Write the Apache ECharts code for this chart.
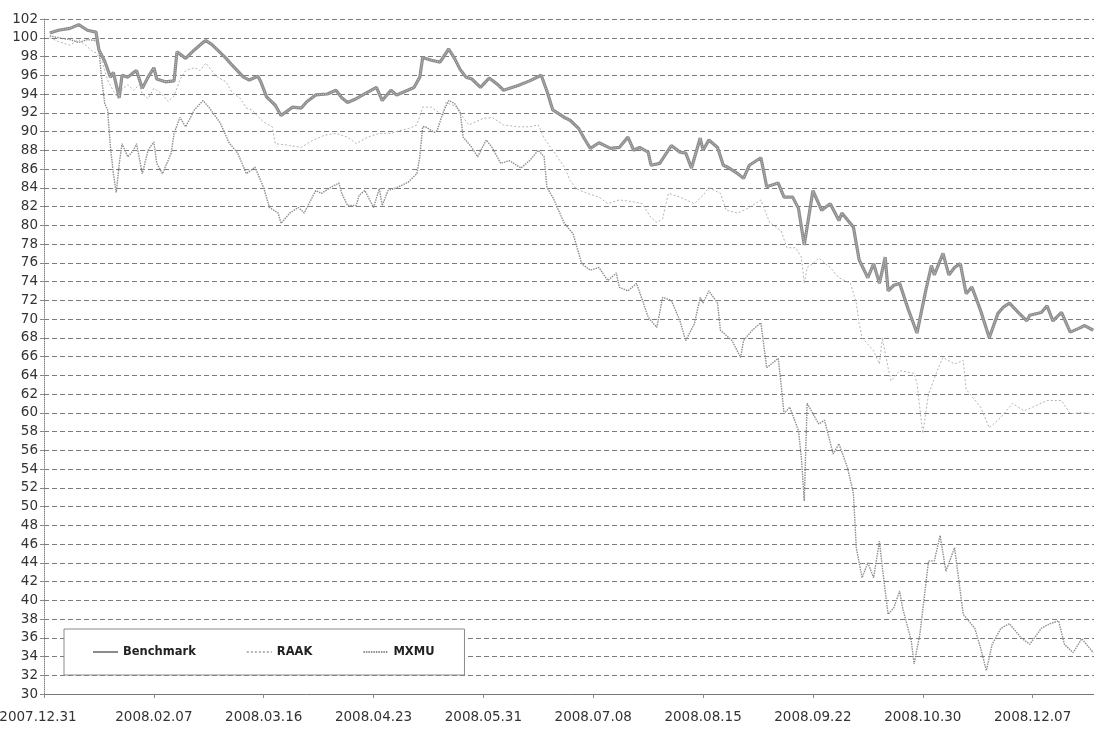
<!DOCTYPE html>
<html>
<head>
<meta charset="utf-8">
<title>Benchmark / RAAK / MXMU</title>
<script src="https://cdn.jsdelivr.net/npm/echarts@6.0.0/dist/echarts.min.js"></script>
<style>
  html, body { margin: 0; padding: 0; background: #fff; }
  #main { width: 1094px; height: 733px; }
</style>
</head>
<body>
<div id="main"></div>
<script>
// x = days since 2007.12.31, y = index (start = 100)
var xLabels = ['2007.12.31', '2008.02.07', '2008.03.16', '2008.04.23', '2008.05.31',
  '2008.07.08', '2008.08.15', '2008.09.22', '2008.10.30', '2008.12.07'];
var labelStep = 38; // days between axis labels

var benchmark = [[2,100.5],[5,100.8],[9,101],[12,101.4],[15,100.8],[18,100.6],[19,98.7],[21,97.5],[23,95.8],[24,96.3],[26,93.6],[27,96],[29,95.8],[31,96.3],[32,96.5],[34,94.6],[36,95.8],[38,96.8],[39,95.6],[42,95.3],[45,95.4],[46,98.5],[49,97.8],[52,98.7],[55,99.5],[56,99.7],[58,99.3],[60,98.7],[63,97.8],[65,97.1],[69,95.8],[71,95.5],[74,95.9],[75,95.3],[77,93.7],[80,92.8],[82,91.7],[86,92.6],[89,92.5],[91,93.2],[94,93.9],[98,94],[101,94.4],[103,93.6],[105,93.1],[108,93.5],[112,94.2],[115,94.7],[117,93.3],[120,94.4],[122,93.9],[125,94.3],[128,94.7],[130,95.8],[131,97.9],[134,97.6],[137,97.4],[140,98.8],[142,97.8],[144,96.6],[146,95.8],[148,95.6],[151,94.7],[154,95.7],[157,95],[159,94.4],[164,94.9],[168,95.4],[172,96],[174,94.3],[176,92.3],[180,91.5],[182,91.2],[185,90.3],[187,89.2],[189,88.2],[192,88.8],[196,88.2],[199,88.3],[202,89.4],[204,88],[206,88.3],[209,87.8],[210,86.4],[213,86.6],[217,88.5],[220,87.8],[222,87.7],[224,86.1],[227,89.3],[228,88],[230,89.1],[233,88.3],[235,86.4],[237,86.1],[240,85.5],[242,85],[244,86.4],[248,87.2],[249,85.7],[250,84.1],[254,84.5],[256,83],[259,83],[261,81.8],[263,77.9],[266,83.7],[269,81.6],[272,82.3],[275,80.5],[276,81.3],[280,79.8],[282,76.3],[285,74.4],[287,75.9],[289,73.8],[291,76.6],[292,73],[294,73.6],[296,73.8],[299,71],[302,68.5],[305,73],[307,75.7],[308,74.7],[311,77],[313,74.7],[315,75.5],[317,75.9],[319,72.7],[321,73.4],[324,70.9],[327,68],[330,70.6],[332,71.3],[334,71.7],[337,70.7],[340,69.8],[341,70.4],[345,70.7],[347,71.4],[349,69.8],[352,70.7],[355,68.6],[358,69],[360,69.3],[363,68.8]];

var raak = [[2,100],[5,99.6],[9,99.2],[12,99.8],[14,99.3],[17,98.5],[18,98.4],[20,97.5],[22,95.5],[24,94.3],[26,93.4],[27,94.5],[29,95],[31,94.4],[33,95],[34,94],[36,93.5],[38,94.6],[40,94.2],[43,93.2],[45,93.8],[47,95.5],[49,96.5],[52,96.8],[54,96.5],[56,97.3],[58,96.5],[60,95.8],[63,95.3],[65,94.2],[68,93.5],[70,92.5],[72,92.3],[74,91.6],[76,91],[79,90.5],[80,88.7],[83,88.6],[85,88.5],[89,88.3],[92,88.9],[97,89.6],[101,89.8],[105,89.4],[108,88.7],[112,89.4],[116,89.8],[120,89.8],[123,90.1],[126,90.3],[129,90.7],[131,92.6],[134,92.6],[138,91.7],[139,93.1],[143,92.6],[145,91.5],[147,90.7],[152,91.4],[155,91.5],[159,90.7],[164,90.5],[168,90.5],[171,90.7],[173,89.3],[176,88],[180,86.2],[182,84.8],[184,83.9],[188,83.4],[192,83],[195,82.3],[199,82.7],[204,82.5],[207,82.3],[210,80.8],[212,80.3],[214,80.7],[216,83.4],[220,83],[225,82.3],[228,83.2],[230,84],[234,83.4],[236,81.6],[240,81.3],[244,81.9],[248,82.7],[251,80.3],[255,79.4],[257,77.6],[260,77.6],[262,76.6],[263,73.8],[264,75.5],[266,75.9],[268,76.5],[272,75.5],[275,74.4],[279,73.8],[281,71.7],[282,69.5],[283,68],[287,66.6],[289,65.2],[290,68],[292,64.8],[293,63.4],[296,64.5],[301,64.2],[302,63.1],[304,57.8],[306,62],[309,64.5],[311,65.9],[315,65.2],[318,65.6],[319,62.5],[324,60.6],[327,58.4],[331,59.5],[335,61],[339,60.2],[342,60.6],[347,61.3],[352,61.3],[355,59.9],[359,60],[363,59.9]];

var mxmu = [[2,100.2],[5,100],[9,99.8],[12,99.5],[15,99.8],[18,99.7],[19,98.7],[20,95.5],[21,93],[22,92.3],[23,88.3],[24,85.5],[25,83.5],[26,86.5],[27,88.7],[29,87.3],[31,88],[32,88.7],[34,85.5],[36,88],[38,88.9],[39,86.6],[41,85.5],[44,87.7],[45,89.8],[47,91.5],[49,90.5],[52,92.3],[55,93.3],[57,92.6],[61,90.9],[64,88.8],[67,87.7],[70,85.5],[73,86.2],[76,84],[78,81.9],[81,81.3],[82,80.2],[85,81.3],[88,81.9],[90,81.3],[94,83.7],[96,83.4],[99,84],[102,84.5],[103,83.4],[105,82.1],[108,82.1],[109,83.2],[111,83.7],[114,81.9],[116,83.9],[117,82.1],[119,83.7],[122,84],[126,84.6],[129,85.5],[130,87.3],[131,90.5],[132,90.5],[135,89.9],[136,90.1],[138,92],[140,93.3],[142,93],[144,92],[145,89.4],[148,88.3],[150,87.3],[153,89.1],[155,88.3],[158,86.6],[161,86.9],[165,86.1],[168,86.9],[171,88],[173,87.3],[174,84],[176,83],[180,80.2],[183,79.1],[185,77],[186,75.9],[189,75.2],[192,75.5],[195,74.1],[198,74.9],[199,73.4],[202,73],[205,73.8],[209,70.2],[212,69.1],[214,72.3],[217,72],[220,69.8],[222,67.7],[225,69.5],[227,72.3],[228,71.7],[230,73],[233,71.7],[234,68.8],[238,67.7],[241,65.9],[242,67.7],[245,68.8],[248,69.6],[250,64.8],[254,65.8],[255,63],[256,59.9],[258,60.6],[261,58.1],[262,55.2],[263,50.6],[264,61],[268,58.8],[270,59.2],[273,55.6],[275,56.7],[278,54.1],[280,51.4],[281,45.6],[283,42.4],[285,44],[287,42.4],[289,46.3],[290,43.5],[292,38.5],[294,39.2],[296,41],[297,39.2],[300,35.7],[301,33.2],[303,36.4],[306,44.2],[308,44.2],[310,46.9],[312,43.1],[315,45.6],[318,38.5],[322,37],[324,34.9],[326,32.5],[328,35.3],[331,37],[334,37.5],[338,36],[341,35.3],[345,37],[348,37.5],[351,37.8],[353,35.3],[356,34.4],[359,35.9],[363,34.4]];

var font = 'DejaVu Sans';
var myChart = echarts.init(document.getElementById('main'));

myChart.setOption({
  animation: false,
  backgroundColor: '#ffffff',
  grid: {
    left: 44,
    right: -8, // the date axis runs a little past the right edge
    top: 19,
    bottom: 39,
    outerBoundsMode: 'none' // keep the plot box fixed, labels may overhang
  },
  legend: {
    data: ['Benchmark', 'RAAK', 'MXMU'],
    left: 64,
    top: 629,
    orient: 'horizontal',
    itemWidth: 25,
    itemHeight: 10,
    itemGap: 50,
    padding: [17, 30, 17, 28],
    backgroundColor: '#ffffff',
    borderColor: '#8a8a8a',
    borderWidth: 1,
    // only the line sample, no marker dot
    itemStyle: { opacity: 0 },
    textStyle: {
      fontFamily: font,
      fontSize: 11.5,
      fontWeight: 'bold',
      color: '#222'
    }
  },
  xAxis: {
    type: 'value',
    min: 0,
    max: 366,
    interval: labelStep,
    axisLine: { lineStyle: { color: '#777', width: 1 } },
    axisTick: { length: 4, lineStyle: { color: '#888' } },
    splitLine: { show: false },
    axisLabel: {
      margin: 16,
      fontFamily: font,
      fontSize: 13.5,
      color: '#333',
      formatter: function (v) {
        var s = xLabels[v / labelStep] || '';
        // first label sits a bit left of the axis start
        return v === 0 ? '{first|' + s + '}' : s;
      },
      rich: {
        first: { fontFamily: font, fontSize: 13.5, color: '#333', padding: [0, 12, 0, 0] }
      }
    }
  },
  yAxis: {
    type: 'value',
    min: 30,
    max: 102,
    interval: 2,
    axisLine: { show: true, lineStyle: { color: '#888', type: 'dotted' } },
    axisTick: { show: true, length: 4, lineStyle: { color: '#888' } },
    axisLabel: {
      margin: 6,
      fontFamily: font,
      fontSize: 13.5,
      color: '#333'
    },
    splitLine: {
      lineStyle: { color: '#7c7c7c', width: 1, type: [5, 3] }
    }
  },
  series: [
    {
      name: 'RAAK',
      type: 'line',
      data: raak,
      symbol: 'none',
      z: 2,
      itemStyle: { color: '#b4b4b4' },
      lineStyle: { color: '#b4b4b4', width: 1, type: [2, 2] }
    },
    {
      name: 'MXMU',
      type: 'line',
      data: mxmu,
      symbol: 'none',
      z: 3,
      itemStyle: { color: '#8e8e8e' },
      lineStyle: { color: '#8e8e8e', width: 1.4, type: [1.5, 1] }
    },
    {
      name: 'Benchmark',
      type: 'line',
      data: benchmark,
      symbol: 'none',
      z: 4,
      itemStyle: { color: '#8c8c8c' },
      lineStyle: { color: '#8c8c8c', width: 3.2 }
    },
    {
      // lighter speckled core over the thick line
      name: 'Benchmark',
      type: 'line',
      data: benchmark,
      symbol: 'none',
      z: 5,
      itemStyle: { color: '#c4c4c4' },
      lineStyle: { color: '#c4c4c4', width: 1, type: [1, 1] }
    }
  ]
});
</script>
</body>
</html>
